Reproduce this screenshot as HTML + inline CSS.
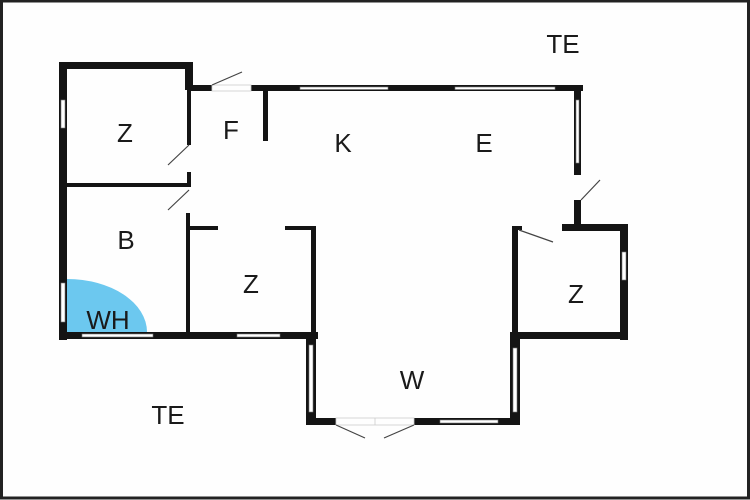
<!DOCTYPE html>
<html><head><style>
html,body{margin:0;padding:0;background:#fff}
svg{display:block}
text{font-family:"Liberation Sans",sans-serif;font-size:26px;fill:#1a1a1a;text-anchor:middle}
</style></head><body>
<svg width="750" height="500" viewBox="0 0 750 500" xmlns="http://www.w3.org/2000/svg">
<rect x="0" y="0" width="750" height="500" fill="#fefefe"/>
<rect x="1.5" y="1" width="747" height="497" fill="none" stroke="#222" stroke-width="3"/>
<path d="M67,332 L67,279 A80,53 0 0 1 147,332 Z" fill="#6cc8ef"/>
<g fill="#141414">
<rect x="59" y="62" width="8" height="278"/>
<rect x="59" y="62" width="134" height="7"/>
<rect x="185" y="62" width="8" height="28"/>
<rect x="187" y="85" width="4" height="60"/>
<rect x="187" y="172" width="4" height="13"/>
<rect x="67" y="183" width="124" height="4"/>
<rect x="186" y="213" width="4" height="122"/>
<rect x="59" y="332" width="259" height="7"/>
<rect x="190" y="85" width="22" height="6"/>
<rect x="251" y="85" width="332" height="6"/>
<rect x="263" y="85" width="5" height="56"/>
<rect x="574" y="85" width="7" height="90"/>
<rect x="574" y="200" width="7" height="31"/>
<rect x="562" y="224" width="66" height="7"/>
<rect x="620" y="224" width="8" height="116"/>
<rect x="512" y="332" width="116" height="7"/>
<rect x="512" y="226" width="6" height="199"/>
<rect x="512" y="226" width="10" height="4"/>
<rect x="190" y="226" width="28" height="4"/>
<rect x="285" y="226" width="31" height="4"/>
<rect x="311" y="226" width="5" height="110"/>
<rect x="306" y="332" width="10" height="93"/>
<rect x="306" y="418" width="30" height="7"/>
<rect x="414" y="418" width="106" height="7"/>
<rect x="510" y="332" width="10" height="93"/>
</g>
<g fill="#fff" stroke="#777" stroke-width="0.6">
<rect x="61" y="100" width="4" height="28"/>
<rect x="61" y="283" width="4" height="39"/>
<rect x="82" y="334" width="71" height="3"/>
<rect x="237" y="334" width="43" height="3"/>
<rect x="300" y="87" width="88" height="2.5"/>
<rect x="455" y="87" width="100" height="2.5"/>
<rect x="576" y="100" width="3" height="63"/>
<rect x="622" y="252" width="4" height="28"/>
<rect x="309" y="345" width="4" height="67"/>
<rect x="513" y="348" width="4" height="64"/>
<rect x="440" y="420" width="58" height="3"/>
</g>
<g stroke="#ccc" stroke-width="0.8" fill="none">
<rect x="336" y="418" width="78" height="7"/>
<line x1="375" y1="418" x2="375" y2="425"/>
<rect x="212" y="85" width="39" height="6"/>
</g>
<g stroke="#444" stroke-width="1.2">
<line x1="212" y1="85" x2="242" y2="72"/>
<line x1="189" y1="145" x2="168" y2="165"/>
<line x1="189" y1="190" x2="168" y2="210"/>
<line x1="581" y1="200" x2="600" y2="180"/>
<line x1="519" y1="230" x2="553" y2="242"/>
<line x1="336" y1="425" x2="365" y2="438"/>
<line x1="414" y1="425" x2="384" y2="438"/>
</g>
<text x="563" y="53">TE</text>
<text x="125" y="142">Z</text>
<text x="231" y="139">F</text>
<text x="343" y="152">K</text>
<text x="484" y="152">E</text>
<text x="126" y="249">B</text>
<text x="251" y="293">Z</text>
<text x="108" y="329">WH</text>
<text x="576" y="303">Z</text>
<text x="412" y="389">W</text>
<text x="168" y="424">TE</text>
</svg>
</body></html>
